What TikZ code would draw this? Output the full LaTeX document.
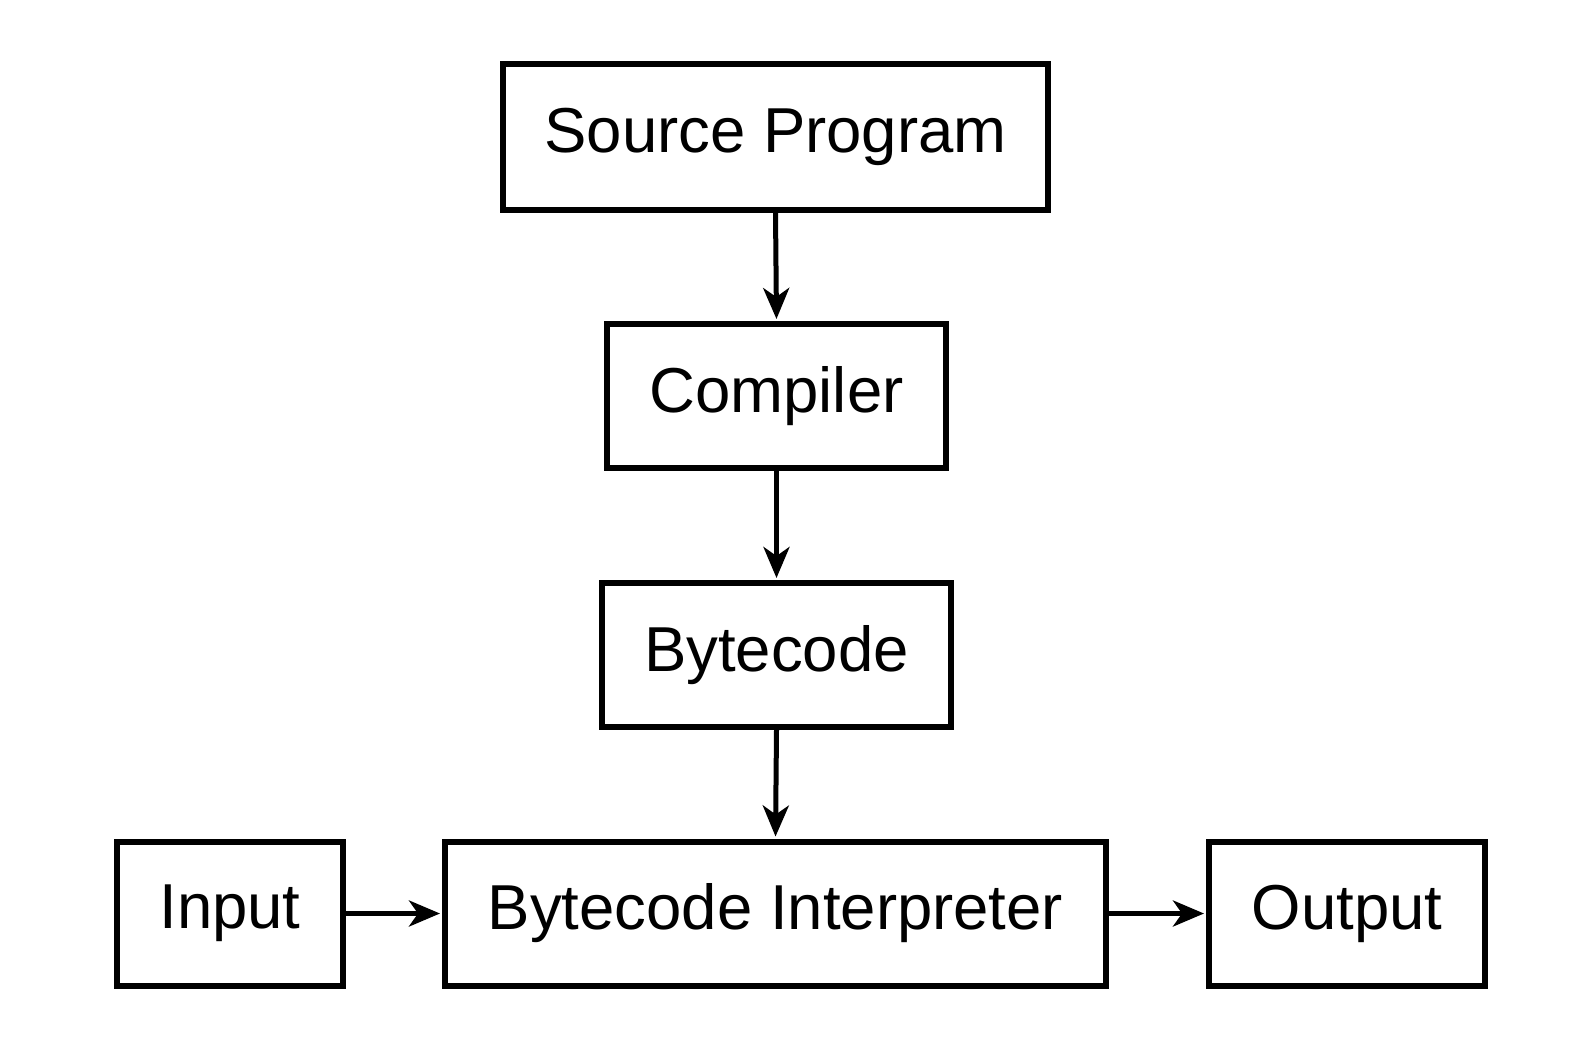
\documentclass[tikz,border=0pt]{standalone}
\usepackage{fontspec}
\setmainfont{Liberation Sans}
\usetikzlibrary{arrows.meta}
\begin{document}
\begin{tikzpicture}[x=1pt,y=-1pt,
  box/.style={draw, line width=6pt, inner sep=0pt, font=\fontsize{63.5}{70}\selectfont},
  arr/.style={line width=5pt, -{Stealth[length=31pt,width=26pt,inset=9pt]}, shorten >=2pt}]
\useasboundingbox (0,0) rectangle (1596,1044);
\node[box, minimum width=545pt, minimum height=146pt] (src) at (775.5,136.5) {Source Program};
\node[box, minimum width=339pt, minimum height=144pt] (comp) at (776.5,396) {Compiler};
\node[box, minimum width=349pt, minimum height=144pt] (bc) at (776.5,655) {Bytecode};
\node[box, minimum width=226pt, minimum height=144pt] (in) at (230,913.5) {Input};
\node[box, minimum width=661pt, minimum height=144pt] (bi) at (775.5,913.5) {Bytecode Interpreter};
\node[box, minimum width=276pt, minimum height=144pt] (out) at (1347,913.5) {Output};
\draw[arr] (src.south) -- (comp.north);
\draw[arr] (comp.south) -- (bc.north);
\draw[arr] (bc.south) -- (bi.north);
\draw[arr] (in.east) -- (bi.west);
\draw[arr] (bi.east) -- (out.west);
\end{tikzpicture}
\end{document}
